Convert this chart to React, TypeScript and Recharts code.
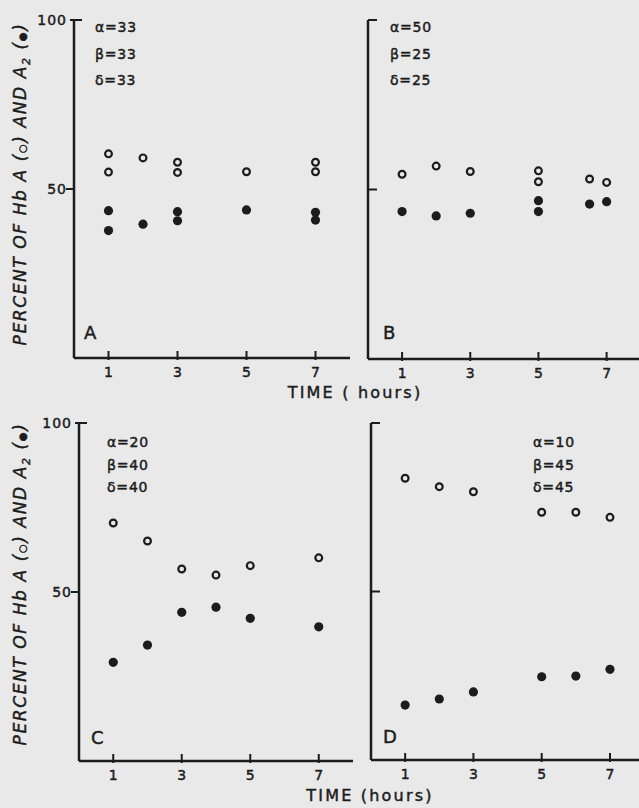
import React from 'react';
import { ScatterChart, Scatter, XAxis, YAxis } from 'recharts';

const INK = '#1c1c1c';
const PAPER = '#e9e9e9';
const FONT = '"DejaVu Sans", sans-serif';

// panel A (α 33, β 33, δ 33)
const timesA = [1, 1, 2, 3, 3, 5, 7, 7];
const hbAPanelA = [60.4, 55, 59.2, 57.9, 54.9, 55.1, 57.9, 55.1];
const a2PanelA = [43.6, 37.7, 39.6, 43.3, 40.6, 43.8, 43.1, 40.8];
const chainsA = ['α=33', 'β=33', 'δ=33'];

// panel B (α 50, β 25, δ 25)
const timesB = [1, 2, 3, 5, 5, 6.5, 7];
const hbAPanelB = [54.5, 56.9, 55.3, 55.5, 52.3, 53.1, 52.1];
const a2PanelB = [43.5, 42.2, 43, 46.7, 43.5, 45.7, 46.4];
const chainsB = ['α=50', 'β=25', 'δ=25'];

// panel C (α 20, β 40, δ 40)
const timesC = [1, 2, 3, 4, 5, 7];
const hbAPanelC = [70.4, 65.1, 56.8, 55, 57.8, 60.1];
const a2PanelC = [29.2, 34.3, 44, 45.5, 42.2, 39.7];
const chainsC = ['α=20', 'β=40', 'δ=40'];

// panel D (α 10, β 45, δ 45)
const timesD = [1, 2, 3, 5, 6, 7];
const hbAPanelD = [83.6, 81.1, 79.6, 73.5, 73.5, 72];
const a2PanelD = [16.3, 18.1, 20.2, 24.7, 24.9, 26.9];
const chainsD = ['α=10', 'β=45', 'δ=45'];

const xTicks = [1, 3, 5, 7];
const yTicks = [50, 100];

const toPoints = (times: number[], vals: number[]) => times.map((t, i) => ({ x: t, y: vals[i] }));

// heavier lettering, like the hand-lettered original
const ink = { fill: INK, stroke: INK, strokeWidth: 0.45, fontFamily: FONT };

const OpenDot = (p: any) => (
  <circle cx={p.cx} cy={p.cy} r={3.4} fill={PAPER} stroke={INK} strokeWidth={2.2} />
);
const FilledDot = (p: any) => <circle cx={p.cx} cy={p.cy} r={4.6} fill={INK} />;

interface PanelProps {
  left: number;
  top: number;
  width: number;
  height: number;
  // plot box in page coordinates
  pl: number;
  pt: number;
  pr: number;
  pb: number;
  xMax: number;
  times: number[];
  hbA: number[];
  a2: number[];
  outer: boolean;
}

const Panel: React.FC<PanelProps> = ({ left, top, width, height, pl, pt, pr, pb, xMax, times, hbA, a2, outer }) => {
  const axisX = pl - left;
  const axisY = pb - top;
  const xAxisH = 30;

  const XTick = (p: any) => (
    <g>
      <line x1={p.x} x2={p.x} y1={axisY - 7} y2={axisY + 2} stroke={INK} strokeWidth={2} />
      <text x={p.x} y={axisY + 19} textAnchor="middle" fontSize={14} {...ink}>
        {p.payload.value}
      </text>
    </g>
  );

  const YTick = (p: any) => {
    const v = p.payload.value;
    if (outer) {
      return (
        <g>
          <line x1={v === 100 ? axisX - 4 : axisX - 8} x2={v === 100 ? axisX + 8 : axisX} y1={p.y} y2={p.y} stroke={INK} strokeWidth={2} />
          <text x={axisX - 7} y={p.y + 5} textAnchor="end" fontSize={14} letterSpacing={1} {...ink}>
            {v}
          </text>
        </g>
      );
    }
    return <line x1={axisX} x2={axisX + 9} y1={p.y} y2={p.y} stroke={INK} strokeWidth={2} />;
  };

  return (
    <div style={{ position: 'absolute', left, top, width, height }}>
      <ScatterChart
        width={width}
        height={height}
        margin={{ top: pt - top, right: left + width - pr, bottom: top + height - pb - xAxisH, left: 0 }}
      >
        <XAxis
          type="number"
          dataKey="x"
          domain={[0, xMax]}
          ticks={xTicks}
          interval={0}
          allowDataOverflow
          height={xAxisH}
          axisLine={{ stroke: INK, strokeWidth: 2.5 }}
          tickLine={false}
          tick={XTick}
        />
        <YAxis
          type="number"
          dataKey="y"
          domain={[0, 100]}
          ticks={yTicks}
          interval={0}
          width={axisX}
          axisLine={{ stroke: INK, strokeWidth: 2.5 }}
          tickLine={false}
          tick={YTick}
        />
        <Scatter data={toPoints(times, hbA)} shape={OpenDot} isAnimationActive={false} />
        <Scatter data={toPoints(times, a2)} shape={FilledDot} isAnimationActive={false} />
      </ScatterChart>
    </div>
  );
};

const Chains: React.FC<{ x: number; y: number; gap: number; lines: string[] }> = ({ x, y, gap, lines }) => (
  <g>
    {lines.map((s, i) => (
      <text key={s} x={x} y={y + i * gap} fontSize={14} letterSpacing={0.8} {...ink}>
        {s}
      </text>
    ))}
  </g>
);

const YLabel: React.FC<{ x: number; y: number }> = ({ x, y }) => (
  <text
    x={x}
    y={y}
    transform={`rotate(-90 ${x} ${y})`}
    textAnchor="middle"
    fontStyle="italic"
    fontSize={17}
    letterSpacing={1.6}
    {...ink}
  >
    PERCENT OF Hb A (<tspan fontSize={10} fontStyle="normal">○</tspan>) AND A
    <tspan dy={4} fontSize={11}>2</tspan>
    <tspan dy={-4}> (</tspan>
    <tspan fontSize={10} fontStyle="normal">●</tspan>)
  </text>
);

export default function App() {
  return (
    <div style={{ position: 'absolute', left: 0, top: 0, width: 639, height: 808, background: PAPER, overflow: 'hidden' }}>
      <Panel left={0} top={0} width={355} height={400} pl={74} pt={20} pr={350} pb={358} xMax={8}
        times={timesA} hbA={hbAPanelA} a2={a2PanelA} outer />
      <Panel left={355} top={0} width={284} height={400} pl={368} pt={20} pr={639} pb={359} xMax={7.95}
        times={timesB} hbA={hbAPanelB} a2={a2PanelB} outer={false} />
      <Panel left={0} top={400} width={355} height={408} pl={79} pt={423} pr={353} pb={761} xMax={8}
        times={timesC} hbA={hbAPanelC} a2={a2PanelC} outer />
      <Panel left={355} top={400} width={284} height={408} pl={371} pt={423} pr={639} pb={760} xMax={7.85}
        times={timesD} hbA={hbAPanelD} a2={a2PanelD} outer={false} />

      <svg width={639} height={808} style={{ position: 'absolute', left: 0, top: 0, pointerEvents: 'none' }}>
        <Chains x={95} y={32} gap={26.5} lines={chainsA} />
        <Chains x={390} y={32} gap={26.5} lines={chainsB} />
        <Chains x={107} y={447} gap={22.5} lines={chainsC} />
        <Chains x={533} y={447} gap={22.5} lines={chainsD} />

        <text x={84} y={339} fontSize={18} {...ink}>A</text>
        <text x={383} y={339} fontSize={18} {...ink}>B</text>
        <text x={91} y={744} fontSize={18} {...ink}>C</text>
        <text x={383} y={743} fontSize={18} {...ink}>D</text>

        <text x={355} y={398} textAnchor="middle" fontSize={16} letterSpacing={2.2} {...ink}>
          TIME ( hours)
        </text>
        <text x={370} y={801} textAnchor="middle" fontSize={16} letterSpacing={2.2} {...ink}>
          TIME (hours)
        </text>

        <YLabel x={26} y={184} />
        <YLabel x={26} y={584} />
      </svg>
    </div>
  );
}
